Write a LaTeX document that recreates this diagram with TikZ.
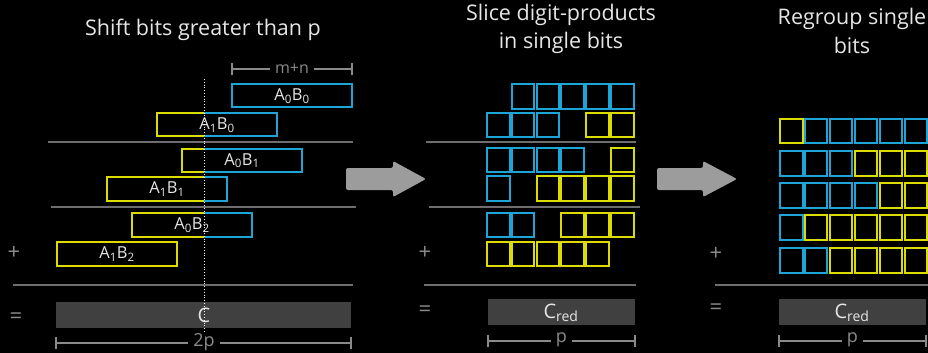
\documentclass[tikz,border=0pt]{standalone}
\usepackage{fontspec}
\setmainfont{Open Sans}
\definecolor{cy}{HTML}{1EA5D8}
\definecolor{ye}{HTML}{DCDC00}
\definecolor{ln}{HTML}{6E6E6E}
\definecolor{barc}{HTML}{404040}
\definecolor{arr}{HTML}{9C9C9C}
\definecolor{tx}{HTML}{E6E6E6}
\definecolor{dimc}{HTML}{8A8A8A}
\tikzset{
  cell/.style={line width=2pt, minimum width=22.5pt, minimum height=24.5pt, inner sep=0pt, outer sep=0pt, anchor=north west},
  ttl/.style={text=tx, font=\fontsize{21.5}{28.5}\selectfont, align=center},
  lbl/.style={text=tx, font=\fontsize{16.5}{20}\selectfont, inner sep=0pt},
  big/.style={text=tx, font=\fontsize{20}{22}\selectfont, inner sep=0pt},
  op/.style={text=dimc, font=\fontsize{22}{24}\selectfont, inner sep=0pt},
  sep/.style={draw=ln, line width=1.5pt},
  dimline/.style={draw=dimc, line width=1.2pt},
  dimtxt/.style={text=dimc, font=\fontsize{18}{20}\selectfont, fill=black, inner xsep=5pt, inner ysep=0pt},
  barbox/.style={fill=barc, inner sep=0pt, outer sep=0pt, anchor=north west},
  arrowshape/.style={fill=arr, rounded corners=2pt},
}
\newcommand{\sbx}[1]{\textsubscript{#1}}
\begin{document}
\begin{tikzpicture}[x=1pt,y=-1pt]
\fill[black] (0,0) rectangle (928,353);
\useasboundingbox (0,0) rectangle (928,353);
\clip (0,0) rectangle (928,353);

% ---------- Panel 1 ----------
\node[ttl] (t1) at (203,30) {Shift bits greater than p};

% m+n dimension
\coordinate (mnL) at (232,69);
\coordinate (mnR) at (352,69);
\draw[dimline] (mnL) -- (mnR);
\draw[dimline] ([yshift=-6pt]mnL) -- ([yshift=6pt]mnL);
\draw[dimline] ([yshift=-6pt]mnR) -- ([yshift=6pt]mnR);
\node[dimtxt, font=\fontsize{16}{18}\selectfont] (mn) at (292,69) {m+n};

% product boxes (path coordinates)
% A0B0
\draw[cy, line width=2pt] (232,84.3) rectangle (352.3,107.3);
\node[lbl] (a0b0) at (292,96) {A\sbx{0}B\sbx{0}};
% A1B0
\draw[ye, line width=2pt] (204,113.3) -- (156.7,113.3) -- (156.7,136.3) -- (204,136.3);
\draw[cy, line width=2pt] (204,113.3) -- (276.7,113.3) -- (276.7,136.3) -- (204,136.3);
\node[lbl] (a1b0) at (217,125) {A\sbx{1}B\sbx{0}};
\draw[sep] (48,142) -- (353,142);
% A0B1
\draw[ye, line width=2pt] (204,148.7) -- (181.7,148.7) -- (181.7,172.3) -- (204,172.3);
\draw[cy, line width=2pt] (204,148.7) -- (301.7,148.7) -- (301.7,172.3) -- (204,172.3);
\node[lbl] (a0b1) at (242,160.5) {A\sbx{0}B\sbx{1}};
% A1B1
\draw[ye, line width=2pt] (204,177) -- (107,177) -- (107,201) -- (204,201);
\draw[cy, line width=2pt] (204,177) -- (227.3,177) -- (227.3,201) -- (204,201);
\node[lbl] (a1b1) at (167,189) {A\sbx{1}B\sbx{1}};
\draw[sep] (51,207) -- (356,207);
% A0B2
\draw[ye, line width=2pt] (204,213) -- (131.7,213) -- (131.7,237) -- (204,237);
\draw[cy, line width=2pt] (204,213) -- (252.3,213) -- (252.3,237) -- (204,237);
\node[lbl] (a0b2) at (192,225) {A\sbx{0}B\sbx{2}};
% A1B2
\draw[ye, line width=2pt] (56.7,242) rectangle (177.3,266);
\node[lbl] (a1b2) at (117,254) {A\sbx{1}B\sbx{2}};

\node[op] (plus1) at (14,253) {+};
\draw[sep] (13,285) -- (353,285);
\node[op] (eq1) at (16,318) {=};
\node[barbox, minimum width=295pt, minimum height=26pt] (cbar) at (56,302) {};
\node[big] (clbl) at (204,315) {C};

% 2p dimension
\coordinate (tpL) at (56,343);
\coordinate (tpR) at (351,343);
\draw[dimline] (tpL) -- (tpR);
\draw[dimline] ([yshift=-6pt]tpL) -- ([yshift=6pt]tpL);
\draw[dimline] ([yshift=-6pt]tpR) -- ([yshift=6pt]tpR);
\node[dimtxt] (tp) at (204,342) {2p};

% dotted p line
\coordinate (dotT) at (204,79);
\coordinate (dotB) at (204,333);
\draw[white, line width=0.8pt, dotted] (dotT) -- (dotB);

% arrows
\fill[arrowshape] (346,168) -- (393,168) -- (393,161) -- (426,179) -- (393,197) -- (393,190) -- (346,190) -- cycle;
\fill[arrowshape] (657,168) -- (703,168) -- (703,161) -- (737,179) -- (703,197) -- (703,190) -- (657,190) -- cycle;

% ---------- Panel 2 ----------
\node[ttl] (t2) at (561,29) {Slice digit-products\\in single bits};
\foreach \c/\r in {1/0,2/0,3/0,4/0,5/0,0/1,1/1,2/1,0/2,1/2,2/2,3/2,0/3,0/4,1/4}{
  \pgfmathsetmacro\yy{{84.3,112.7,147.7,176,212.7,241.7}[\r]}
  \node[cell, draw=cy] (s-\c-\r) at ({487+24.8*\c},\yy) {};
}
\foreach \c/\r in {4/1,5/1,5/2,2/3,3/3,4/3,5/3,3/4,4/4,5/4,0/5,1/5,2/5,3/5,4/5}{
  \pgfmathsetmacro\yy{{84.3,112.7,147.7,176,212.7,241.7}[\r]}
  \node[cell, draw=ye] (s-\c-\r) at ({487+24.8*\c},\yy) {};
}
\draw[sep] (426,142) -- (636,142);
\draw[sep] (429,207) -- (640,207);
\node[op] (plus2) at (425,253) {+};
\draw[sep] (424,285) -- (636,285);
\node[op] (eq2) at (425,311) {=};
\node[barbox, minimum width=147pt, minimum height=26pt] (cbar2) at (488,299) {};
\node[big] (c2) at (561,313) {C\sbx{red}};
\coordinate (p2L) at (488,341);
\coordinate (p2R) at (635,341);
\draw[dimline] (p2L) -- (p2R);
\draw[dimline] ([yshift=-6pt]p2L) -- ([yshift=6pt]p2L);
\draw[dimline] ([yshift=-6pt]p2R) -- ([yshift=6pt]p2R);
\node[dimtxt] (p2) at (561.5,340) {p};

% ---------- Panel 3 ----------
\node[ttl] (t3) at (852,31) {Regroup single\\bits};
\foreach \c/\r in {1/0,2/0,3/0,4/0,5/0,0/1,1/1,2/1,0/2,1/2,2/2,3/2,0/3,0/4,1/4}{
  \pgfmathsetmacro\yy{{118.5,151,183,215,248}[\r]}
  \node[cell, draw=cy] (r-\c-\r) at ({780+24.9*\c},\yy) {};
}
\foreach \c/\r in {0/0,3/1,4/1,5/1,4/2,5/2,1/3,2/3,3/3,4/3,5/3,2/4,3/4,4/4,5/4}{
  \pgfmathsetmacro\yy{{118.5,151,183,215,248}[\r]}
  \node[cell, draw=ye] (r-\c-\r) at ({780+24.9*\c},\yy) {};
}
\node[op] (plus3) at (716,254) {+};
\draw[sep] (715,285) -- (928,285);
\node[op] (eq3) at (716,309) {=};
\node[barbox, minimum width=147pt, minimum height=26pt] (cbar3) at (779,299) {};
\node[big] (c3) at (852,313) {C\sbx{red}};
\coordinate (p3L) at (779,341);
\coordinate (p3R) at (926,341);
\draw[dimline] (p3L) -- (p3R);
\draw[dimline] ([yshift=-6pt]p3L) -- ([yshift=6pt]p3L);
\draw[dimline] ([yshift=-6pt]p3R) -- ([yshift=6pt]p3R);
\node[dimtxt] (p3) at (852.5,340) {p};
\end{tikzpicture}
\end{document}
